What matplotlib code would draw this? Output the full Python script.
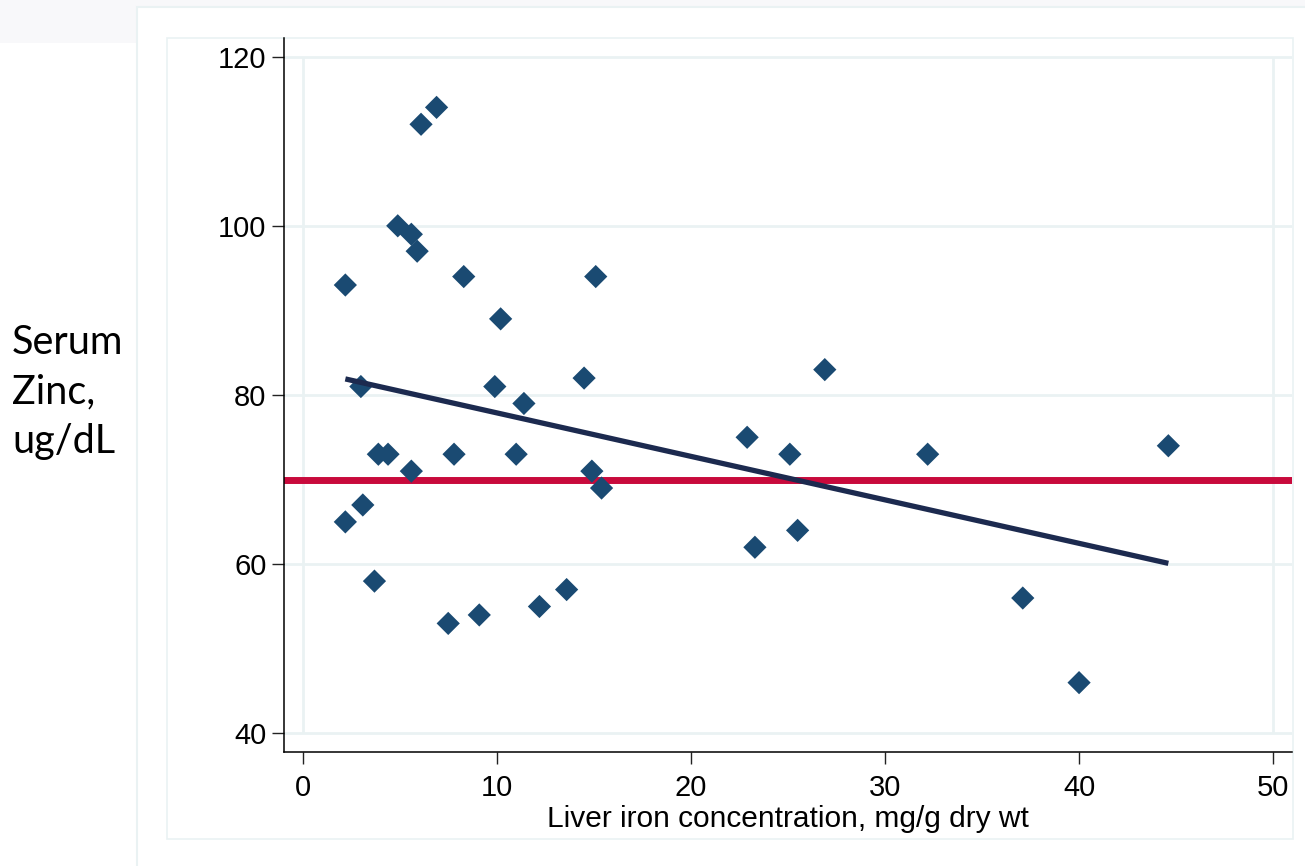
import numpy as np
import matplotlib.pyplot as plt
from matplotlib.patches import Rectangle

# liver iron (mg/g dry wt) vs serum zinc (ug/dL)
liver_iron = [2.2, 2.2, 3.0, 3.1, 3.7, 3.9, 4.4, 4.9, 5.6, 5.6, 5.9, 6.1, 6.9,
              7.5, 7.8, 8.3, 9.1, 9.9, 10.2, 11.0, 11.4, 12.2, 13.6, 14.5,
              14.9, 15.1, 15.4, 22.9, 23.3, 25.1, 25.5, 26.9, 32.2, 37.1,
              40.0, 44.6]
serum_zinc = [93, 65, 81, 67, 58, 73, 73, 100, 99, 71, 97, 112, 114,
              53, 73, 94, 54, 81, 89, 73, 79, 55, 57, 82,
              71, 94, 69, 75, 62, 73, 64, 83, 73, 56,
              46, 74]

# fitted line end points as drawn
fit_x = [2.2, 44.6]
fit_y = [81.9, 60.1]

cutoff = 70  # red reference line

x_ticks = [0, 10, 20, 30, 40, 50]
y_ticks = [40, 60, 80, 100, 120]

W, H = 1305, 866
grid_col = '#eaf2f3'

fig = plt.figure(figsize=(W / 100, H / 100), dpi=100)
fig.patch.set_facecolor('white')

# slide background bits and graph frames (pixel coords -> figure coords)
def px_rect(x0, y0, x1, y1, **kw):
    fig.patches.append(Rectangle((x0 / W, 1 - y1 / H), (x1 - x0) / W, (y1 - y0) / H,
                                 transform=fig.transFigure, zorder=-5, **kw))

px_rect(0, 0, W, 7, facecolor='#f8f8fa', edgecolor='none')
px_rect(0, 0, 137, 43, facecolor='#f8f8fa', edgecolor='none')
px_rect(137, 7, W + 20, H + 20, facecolor='white', edgecolor=grid_col, linewidth=1.5)
px_rect(167, 38, 1293, 839, facecolor='white', edgecolor=grid_col, linewidth=1.2)

ax = fig.add_axes([284 / W, 1 - 752 / H, (1292 - 284) / W, (752 - 38) / H])
ax.patch.set_alpha(0)

ax.set_xlim(-0.96, 50.97)
ax.set_ylim(37.8, 122.2)

for yt in y_ticks:
    ax.axhline(yt, color=grid_col, linewidth=2, zorder=0)
ax.vlines([x_ticks[0], x_ticks[-1]], y_ticks[0], y_ticks[-1], color=grid_col, linewidth=2, zorder=0)

ax.axhline(cutoff, color='#c80a3c', linewidth=5, zorder=1)
ax.scatter(liver_iron, serum_zinc, marker='D', s=140, color='#1a4a72',
           edgecolors='none', zorder=2)
ax.plot(fit_x, fit_y, color='#1c2a4f', linewidth=3.8, zorder=3,
        solid_capstyle='butt')

ax.set_xticks(x_ticks)
ax.set_yticks(y_ticks)
ax.tick_params(axis='both', direction='out', length=8.6, width=1, color='#222222',
               labelsize=21, pad=4)
ax.tick_params(axis='x', pad=7)
for lab in ax.get_xticklabels() + ax.get_yticklabels():
    lab.set_fontfamily('Liberation Sans')

for s in ['top', 'right']:
    ax.spines[s].set_visible(False)
for s in ['left', 'bottom']:
    ax.spines[s].set_linewidth(1.1)
    ax.spines[s].set_color('black')

ax.set_xlabel('Liver iron concentration, mg/g dry wt', fontsize=21.5,
              family='Liberation Sans')
ax.xaxis.label.set_va('baseline')
ax.xaxis.set_label_coords(0.5, (752 - 827) / (752 - 38))

fig.text(12 / W, 1 - 453 / H, 'Serum\nZinc,\nug/dL', family='Lato', fontsize=28.5,
         ha='left', va='baseline', linespacing=1.42)

fig.savefig('out.png', dpi=100)
